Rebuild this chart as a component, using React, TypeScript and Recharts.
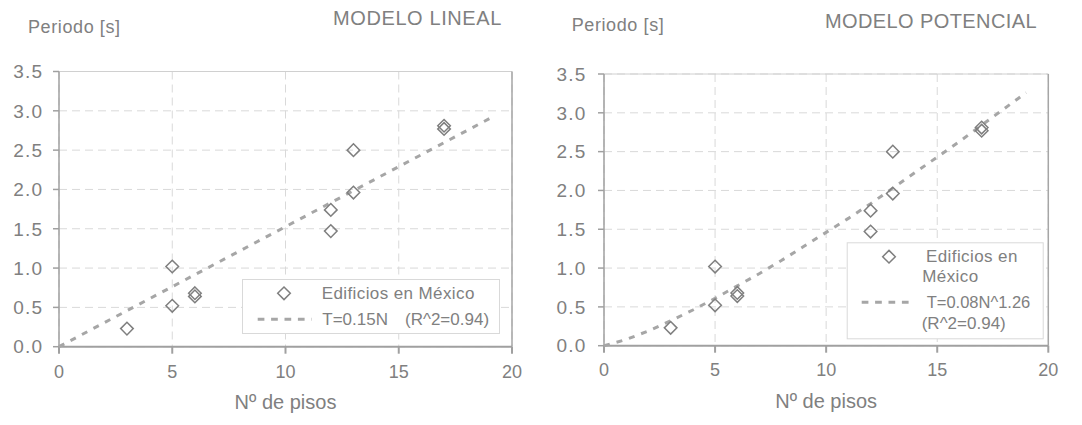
import React from "react";
import {
  ScatterChart, Scatter, XAxis, YAxis, CartesianGrid, ReferenceLine,
} from "recharts";

// ── Data ───────────────────────────────────────────────────

const PISOS = [3, 5, 5, 6, 6, 12, 12, 13, 13, 17, 17];
const PERIODOS = [0.23, 1.02, 0.52, 0.68, 0.64, 1.74, 1.47, 2.5, 1.96, 2.81, 2.77];

const X_TICKS = [0, 5, 10, 15, 20];
const Y_TICKS = [0, 0.5, 1, 1.5, 2, 2.5, 3, 3.5];

// linear fit T=0.15N, read at its two ends
const LINEAL_N = [0, 19];
const LINEAL_T = [0, 2.9];

// power fit T=0.08N^1.26
const POT_N = [0, 1, 2, 3, 4, 5, 6, 7, 8, 9, 10, 11, 12, 13, 14, 15, 16, 17, 18, 19];
const POT_T = [0, 0.08, 0.19, 0.32, 0.46, 0.61, 0.77, 0.93, 1.1, 1.28, 1.46, 1.64, 1.83, 2.03, 2.23, 2.43, 2.63, 2.84, 3.05, 3.26];

// ── Styles ─────────────────────────────────────────────────

const FONT = "'Liberation Sans', Arial, sans-serif";
const TEXT = "#808080";
const AXIS = "#a0a0a0";
const GRID = "#d9d9d9";
const TREND = "#a6a6a6";
const MARK = "#7f7f7f";

const points = PISOS.map((n, i) => ({ n, t: PERIODOS[i] }));
const linealFit = LINEAL_N.map((n, i) => ({ n, t: LINEAL_T[i] }));
const potFit = POT_N.map((n, i) => ({ n, t: POT_T[i] }));

function Diamond(props: any) {
  const { cx, cy } = props;
  const r = 6.3;
  return (
    <path
      d={`M${cx},${cy - r}L${cx + r},${cy}L${cx},${cy + r}L${cx - r},${cy}Z`}
      fill="none"
      stroke={MARK}
      strokeWidth={1.5}
    />
  );
}

interface PanelProps {
  left: number;
  width: number;
  margin: { top: number; right: number; bottom: number; left: number };
  fit: { n: number; t: number }[];
  yTickMargin: number;
  xTickMargin: number;
}

function Panel({ left, width, margin, fit, yTickMargin, xTickMargin }: PanelProps) {
  return (
    <div style={{ position: "absolute", left, top: 0 }}>
      <ScatterChart width={width} height={425} margin={margin}>
        <CartesianGrid stroke={GRID} strokeDasharray="8 5" />
        <XAxis
          type="number"
          dataKey="n"
          domain={[0, 20]}
          ticks={X_TICKS}
          interval={0}
          height={50}
          stroke={AXIS}
          strokeWidth={2}
          tickSize={7}
          tickMargin={xTickMargin}
          tick={{ fontSize: 18, fill: TEXT, fontFamily: FONT }}
          label={{ value: "Nº de pisos", position: "insideBottom", offset: -12, fontSize: 20, fill: TEXT, fontFamily: FONT }}
        />
        <YAxis
          type="number"
          dataKey="t"
          domain={[0, 3.5]}
          ticks={Y_TICKS}
          interval={0}
          width={50}
          stroke={AXIS}
          strokeWidth={1.5}
          tickSize={6}
          tickMargin={yTickMargin}
          tickFormatter={(v: number) => v.toFixed(1)}
          tick={{ fontSize: 19, fill: TEXT, fontFamily: FONT, letterSpacing: 1.2 }}
        />
        <ReferenceLine y={3.5} stroke="#d0d0d0" strokeWidth={1} />
        <ReferenceLine x={20} stroke="#a6a6a6" strokeWidth={1.5} />
        <Scatter
          data={fit}
          line={{ stroke: TREND, strokeWidth: 3, strokeDasharray: "6 7" }}
          shape={() => <g />}
          isAnimationActive={false}
        />
        <Scatter data={points} shape={Diamond} isAnimationActive={false} />
      </ScatterChart>
    </div>
  );
}

function Label({ x, y, size, text, spacing = 0 }: { x: number; y: number; size: number; text: string; spacing?: number }) {
  return (
    <text x={x} y={y} fontSize={size} fill={TEXT} fontFamily={FONT} letterSpacing={spacing} dominantBaseline="central">
      {text}
    </text>
  );
}

function DiamondIcon({ x, y }: { x: number; y: number }) {
  return <Diamond cx={x} cy={y} />;
}

function DashIcon({ x1, x2, y }: { x1: number; x2: number; y: number }) {
  return <line x1={x1} x2={x2} y1={y} y2={y} stroke={TREND} strokeWidth={3} strokeDasharray="6.7 6.7" />;
}

export default function App() {
  return (
    <div style={{ position: "absolute", left: 0, top: 0, width: 1082, height: 425, background: "#fff", overflow: "hidden" }}>
      {/* Left: linear model */}
      <Panel
        left={0}
        width={540}
        margin={{ top: 71.5, right: 28, bottom: 28.3, left: 9 }}
        fit={linealFit}
        yTickMargin={9.8}
        xTickMargin={11.3}
      />
      {/* Right: power model */}
      <Panel
        left={540}
        width={542}
        margin={{ top: 74, right: 33.7, bottom: 29.3, left: 14 }}
        fit={potFit}
        yTickMargin={11.5}
        xTickMargin={10.8}
      />

      {/* Titles and legends */}
      <svg width={1082} height={425} style={{ position: "absolute", left: 0, top: 0, pointerEvents: "none" }}>
        <Label x={28} y={27} size={18} text="Periodo [s]" spacing={0.6} />
        <Label x={333} y={18} size={20} text="MODELO LINEAL" spacing={0.6} />
        <Label x={571.7} y={25} size={18} text="Periodo [s]" spacing={0.6} />
        <Label x={825} y={21} size={20} text="MODELO POTENCIAL" spacing={0.4} />

        <g transform="translate(242,279)">
          <rect x={0.5} y={0.5} width={257} height={54} fill="#fff" stroke="#d9d9d9" />
          <DiamondIcon x={42} y={14.3} />
          <Label x={79.7} y={14} size={17} text="Edificios en México" spacing={0.4} />
          <DashIcon x1={15.7} x2={69.7} y={40.3} />
          <Label x={80.3} y={40} size={17} text="T=0.15N" />
          <Label x={163} y={40} size={17} text="(R^2=0.94)" />
        </g>

        <g transform="translate(846.7,242.3)">
          <rect x={0.5} y={0.5} width={196} height={96} fill="#fff" stroke="#d9d9d9" />
          <DiamondIcon x={42.3} y={14.4} />
          <Label x={79.3} y={14.4} size={17} text="Edificios en" spacing={0.4} />
          <Label x={75.6} y={34.4} size={17} text="México" spacing={0.4} />
          <DashIcon x1={15} x2={68.3} y={60} />
          <Label x={80} y={60} size={16.5} text="T=0.08N^1.26" />
          <Label x={75} y={81} size={17} text="(R^2=0.94)" />
        </g>
      </svg>
    </div>
  );
}
